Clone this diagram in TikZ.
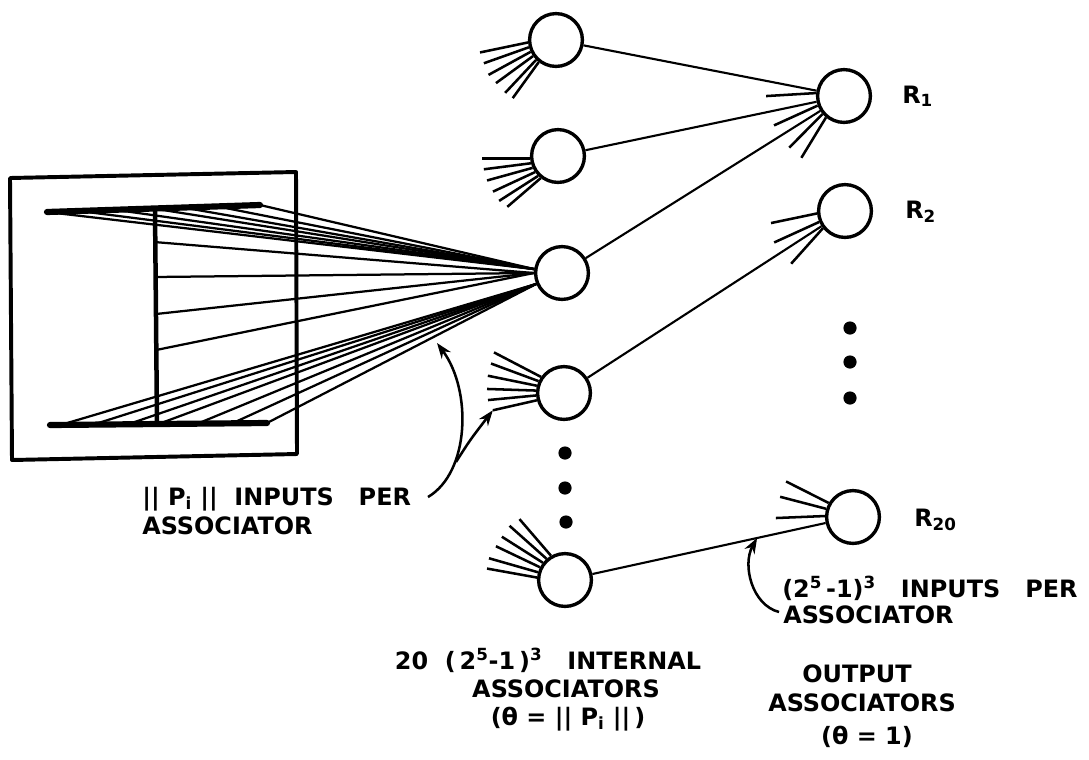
\documentclass[tikz,border=0pt]{standalone}
\usepackage{fontspec}
\setmainfont{DejaVu Sans}
\usetikzlibrary{arrows.meta,calc}

\begin{document}
\begin{tikzpicture}[x=0.025cm,y=-0.025cm,
  unit/.style={circle,draw,line width=2.4pt,minimum size=1.32cm,inner sep=0pt},
  link/.style={line width=1.5pt},
  fan/.style={line width=1.8pt},
  feed/.style={line width=1.6pt},
  bar/.style={line width=4.4pt,line cap=round},
  dot/.style={circle,fill,minimum size=0.33cm,inner sep=0pt},
  lbl/.style={font=\fontsize{17}{20}\selectfont\bfseries,inner sep=0pt},
  callout/.style={line width=1.8pt,-{Stealth[length=11pt,width=8pt]}}
]
\useasboundingbox (0,0) rectangle (1089,759);

% internal associators
\node[unit] (A1) at (556,40) {};
\node[unit] (A2) at (558,156) {};
\node[unit] (A3) at (562,273) {};
\node[unit] (A4) at (564,393) {};
\node[unit] (A5) at (565,580) {};
% output associators
\node[unit] (R1) at (844,96) {};
\node[unit] (R2) at (845,211) {};
\node[unit] (R20) at (853,517) {};

% ellipsis dots
\node[dot] (d1) at (565,453) {};
\node[dot] (d2) at (565,488) {};
\node[dot] (d3) at (566,522) {};
\node[dot] (d4) at (850,328) {};
\node[dot] (d5) at (850,362) {};
\node[dot] (d6) at (850,398) {};

% internal -> output links
\draw[link] (A1) -- (R1);
\draw[link] (A2) -- (R1);
\draw[link] (A3) -- (R1);
\draw[link] (A4) -- (R2);
\draw[link] (A5) -- (R20);

% input fans
\foreach \a/\dx/\dy in {185/-48/10, 195/-45/16, 205/-42/23, 215/-37/27, 225/-31/33, 232/-26/36}
  \draw[fan] (A1.\a) -- ++(\dx,\dy);
\foreach \a/\dx/\dy in {185/-48/0, 195/-47/6, 205/-45.5/12.6, 215/-42/19.5, 225/-39/25, 232/-33.4/28.7}
  \draw[fan] (A2.\a) -- ++(\dx,\dy);
\foreach \a/\dx/\dy in {145/-47/-24.5, 155/-47.5/-17.6, 165/-49/-10, 175/-49/-1.6, 185/-48/4.6}
  \draw[fan] (A4.\a) -- ++(\dx,\dy);
\draw[fan] (A4.195) -- ++(-44,10) coordinate (A4in);
\foreach \a/\dx/\dy in {120/-31.5/-36.6, 131/-37/-33, 142/-41/-26, 153/-44/-21, 164/-49/-14, 175/-50/-9}
  \draw[fan] (A5.\a) -- ++(\dx,\dy);
\foreach \a/\dx/\dy in {174/-50/3, 200/-43.6/19.8, 220/-33.3/33.6, 230/-24.6/40.3}
  \draw[fan] (R1.\a) -- ++(\dx,\dy);
\foreach \a/\dx/\dy in {185/-46/9.6, 203/-45/20.5, 218/-31.7/35.4}
  \draw[fan] (R2.\a) -- ++(\dx,\dy);
\foreach \a/\dx/\dy in {150/-42.6/-21.5, 163/-46/-12, 178/-49/2}
  \draw[fan] (R20.\a) -- ++(\dx,\dy);

% retina frame with the letter pattern
\draw[line width=2.8pt,line join=round] (10,178) -- (296,172) -- (297,454) -- (12,460) -- cycle;
\coordinate (TL) at (47,212);
\coordinate (TR) at (260,205);
\coordinate (BL) at (50,425);
\coordinate (BR) at (267,423);
\coordinate (VT) at (155,210);
\coordinate (VB) at (157,424);
\foreach \t in {0,0.15,0.32,0.5,0.64,0.8,1}
  \draw[feed] ($(TL)!\t!(TR)$) -- (A3.172);
\foreach \t in {0.15,0.313,0.486,0.654}
  \draw[feed] ($(VT)!\t!(VB)$) -- (A3.180);
\foreach \t in {0.05,0.2,0.36,0.5,0.68,0.84,1}
  \draw[feed] ($(BL)!\t!(BR)$) -- (A3.203);
\draw[bar] (TL) -- (TR);
\draw[bar] (BL) -- (BR);
\draw[line width=3.2pt] (VT) -- (VB);

% labels
\node[lbl,anchor=base west] (pin) at (142,505) {|| P\textsubscript{i} ||\ \ INPUTS\ \ \ PER};
\node[lbl,anchor=base west] (pin2) at (142,534) {ASSOCIATOR};
\node[lbl,anchor=base] (int1) at (548,669) {20\ \ (\,2\textsuperscript{5}-1\,)\textsuperscript{3}\ \ \ INTERNAL};
\node[lbl,anchor=base] (int2) at (566,697) {ASSOCIATORS};
\node[lbl,anchor=base] (int3) at (568,725) {(θ = || P\textsubscript{i} ||\,)};
\node[lbl,anchor=base west] (rin) at (782,597) {(2\textsuperscript{5}\,-1)\textsuperscript{3}\ \ \ INPUTS\ \ \ PER};
\node[lbl,anchor=base west] (rin2) at (783,623) {ASSOCIATOR};
\node[lbl,anchor=base] (out1) at (857,682) {OUTPUT};
\node[lbl,anchor=base] (out2) at (862,711) {ASSOCIATORS};
\node[lbl,anchor=base] (out3) at (867,744) {(θ = 1)};
\node[lbl,anchor=base west] (r1l) at (902,103) {R\textsubscript{1}};
\node[lbl,anchor=base west] (r2l) at (905,218) {R\textsubscript{2}};
\node[lbl,anchor=base west] (r20l) at (914,526) {R\textsubscript{20}};

% callout arrows
\coordinate (c1) at (428,497);
\coordinate (c1tip) at (437,343);
\draw[callout] (c1) .. controls (470,472) and (472,390) .. (c1tip);
\draw[callout] (456,462) .. controls (470,440) .. (A4in);
\coordinate (c2) at (779,612);
\draw[callout] (c2) .. controls (752,605) and (742,565) .. ($(A5)!0.667!(R20)$);
\end{tikzpicture}
\end{document}
